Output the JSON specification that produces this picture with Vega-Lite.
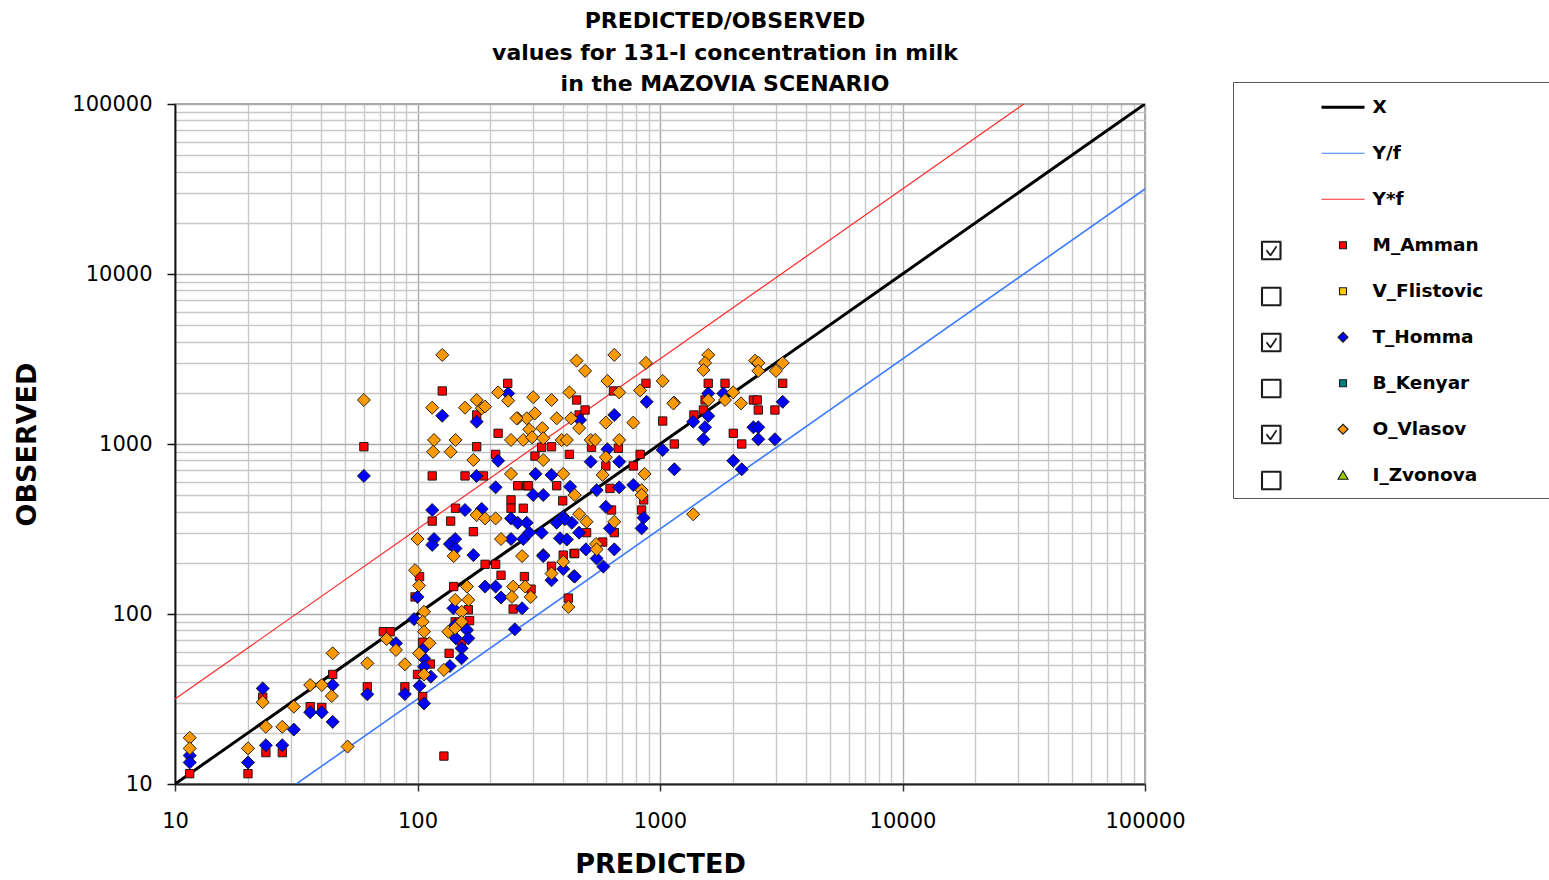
{
  "$schema": "https://vega.github.io/schema/vega-lite/v6.json",
  "width": 970,
  "height": 680,
  "autosize": {"type": "none"},
  "padding": {"left": 175, "top": 104, "right": 404, "bottom": 96},
  "background": "white",
  "title": {
    "text": ["PREDICTED/OBSERVED", "values for 131-I concentration in milk", "in the MAZOVIA SCENARIO"],
    "font": "DejaVu Sans", "fontSize": 22, "fontWeight": "bold", "color": "#000000",
    "lineHeight": 31.7, "anchor": "middle", "frame": "group", "dx": 65,
    "baseline": "alphabetic", "offset": -32
  },
  "datasets": {
    "lines": [
      {"series": "X", "predicted": 10, "observed": 10},
      {"series": "X", "predicted": 100000, "observed": 100000},
      {"series": "Y/f", "predicted": 31.62, "observed": 10},
      {"series": "Y/f", "predicted": 100000, "observed": 31623},
      {"series": "Y*f", "predicted": 10, "observed": 31.62},
      {"series": "Y*f", "predicted": 31623, "observed": 100000}
    ],
    "points": [
      {"series":"M_Amman","predicted":11.5,"observed":11.5},
      {"series":"M_Amman","predicted":20,"observed":11.5},
      {"series":"M_Amman","predicted":23,"observed":32.4},
      {"series":"M_Amman","predicted":23.7,"observed":15.3},
      {"series":"M_Amman","predicted":27.7,"observed":15.3},
      {"series":"M_Amman","predicted":36.1,"observed":28.5},
      {"series":"M_Amman","predicted":40.3,"observed":28.2},
      {"series":"M_Amman","predicted":44.7,"observed":44.1},
      {"series":"M_Amman","predicted":62.1,"observed":37.3},
      {"series":"M_Amman","predicted":72.3,"observed":78.7},
      {"series":"M_Amman","predicted":77.1,"observed":78.7},
      {"series":"M_Amman","predicted":102,"observed":166},
      {"series":"M_Amman","predicted":97.7,"observed":126},
      {"series":"M_Amman","predicted":105,"observed":68.2},
      {"series":"M_Amman","predicted":113,"observed":50.8},
      {"series":"M_Amman","predicted":100,"observed":44.1},
      {"series":"M_Amman","predicted":88.7,"observed":37.3},
      {"series":"M_Amman","predicted":105,"observed":32.7},
      {"series":"M_Amman","predicted":128.5,"observed":14.6},
      {"series":"M_Amman","predicted":162,"observed":106},
      {"series":"M_Amman","predicted":143,"observed":90},
      {"series":"M_Amman","predicted":164,"observed":91.4},
      {"series":"M_Amman","predicted":152,"observed":67.3},
      {"series":"M_Amman","predicted":135,"observed":58.7},
      {"series":"M_Amman","predicted":141,"observed":145},
      {"series":"M_Amman","predicted":190,"observed":196},
      {"series":"M_Amman","predicted":210,"observed":196},
      {"series":"M_Amman","predicted":221,"observed":169},
      {"series":"M_Amman","predicted":276,"observed":166},
      {"series":"M_Amman","predicted":170,"observed":305},
      {"series":"M_Amman","predicted":115,"observed":352},
      {"series":"M_Amman","predicted":137,"observed":352},
      {"series":"M_Amman","predicted":143.5,"observed":419},
      {"series":"M_Amman","predicted":243,"observed":469},
      {"series":"M_Amman","predicted":243,"observed":419},
      {"series":"M_Amman","predicted":273,"observed":419},
      {"series":"M_Amman","predicted":259,"observed":568},
      {"series":"M_Amman","predicted":282,"observed":568},
      {"series":"M_Amman","predicted":115,"observed":649},
      {"series":"M_Amman","predicted":157,"observed":649},
      {"series":"M_Amman","predicted":187,"observed":649},
      {"series":"M_Amman","predicted":210,"observed":869},
      {"series":"M_Amman","predicted":60.1,"observed":964},
      {"series":"M_Amman","predicted":175.4,"observed":964},
      {"series":"M_Amman","predicted":215,"observed":1156},
      {"series":"M_Amman","predicted":175.4,"observed":1482},
      {"series":"M_Amman","predicted":126.5,"observed":2051},
      {"series":"M_Amman","predicted":235.5,"observed":2275},
      {"series":"M_Amman","predicted":399,"observed":222},
      {"series":"M_Amman","predicted":442,"observed":227},
      {"series":"M_Amman","predicted":357,"observed":191},
      {"series":"M_Amman","predicted":294,"observed":140},
      {"series":"M_Amman","predicted":248,"observed":107},
      {"series":"M_Amman","predicted":419,"observed":124},
      {"series":"M_Amman","predicted":464,"observed":1482},
      {"series":"M_Amman","predicted":491,"observed":1585},
      {"series":"M_Amman","predicted":453,"observed":1815},
      {"series":"M_Amman","predicted":643,"observed":2051},
      {"series":"M_Amman","predicted":875,"observed":2275},
      {"series":"M_Amman","predicted":325,"observed":957},
      {"series":"M_Amman","predicted":357,"observed":964},
      {"series":"M_Amman","predicted":522,"observed":957},
      {"series":"M_Amman","predicted":673,"observed":944},
      {"series":"M_Amman","predicted":423,"observed":869},
      {"series":"M_Amman","predicted":828,"observed":869},
      {"series":"M_Amman","predicted":305,"observed":849},
      {"series":"M_Amman","predicted":598,"observed":743},
      {"series":"M_Amman","predicted":776,"observed":743},
      {"series":"M_Amman","predicted":286,"observed":568},
      {"series":"M_Amman","predicted":375,"observed":568},
      {"series":"M_Amman","predicted":622,"observed":548},
      {"series":"M_Amman","predicted":397,"observed":463},
      {"series":"M_Amman","predicted":856,"observed":469},
      {"series":"M_Amman","predicted":631,"observed":409},
      {"series":"M_Amman","predicted":840,"observed":409},
      {"series":"M_Amman","predicted":648,"observed":301},
      {"series":"M_Amman","predicted":498,"observed":301},
      {"series":"M_Amman","predicted":580,"observed":265},
      {"series":"M_Amman","predicted":445,"observed":227},
      {"series":"M_Amman","predicted":1581,"observed":2275},
      {"series":"M_Amman","predicted":1854,"observed":2275},
      {"series":"M_Amman","predicted":3206,"observed":2275},
      {"series":"M_Amman","predicted":2427,"observed":1815},
      {"series":"M_Amman","predicted":2518,"observed":1815},
      {"series":"M_Amman","predicted":1510,"observed":1585},
      {"series":"M_Amman","predicted":2543,"observed":1585},
      {"series":"M_Amman","predicted":2978,"observed":1585},
      {"series":"M_Amman","predicted":1380,"observed":1482},
      {"series":"M_Amman","predicted":2005,"observed":1156},
      {"series":"M_Amman","predicted":2173,"observed":1000},
      {"series":"M_Amman","predicted":1146,"observed":1000},
      {"series":"M_Amman","predicted":1026,"observed":1365},
      {"series":"M_Amman","predicted":1534,"observed":1815},
      {"series":"T_Homma","predicted":11.5,"observed":14.7},
      {"series":"T_Homma","predicted":11.5,"observed":13.4},
      {"series":"T_Homma","predicted":20,"observed":13.4},
      {"series":"T_Homma","predicted":23,"observed":36.5},
      {"series":"T_Homma","predicted":23.7,"observed":16.9},
      {"series":"T_Homma","predicted":27.7,"observed":16.9},
      {"series":"T_Homma","predicted":30.9,"observed":20.9},
      {"series":"T_Homma","predicted":36.1,"observed":26.4},
      {"series":"T_Homma","predicted":40.3,"observed":26.4},
      {"series":"T_Homma","predicted":44.7,"observed":38.2},
      {"series":"T_Homma","predicted":44.7,"observed":23.2},
      {"series":"T_Homma","predicted":62.1,"observed":33.7},
      {"series":"T_Homma","predicted":81.5,"observed":67.3},
      {"series":"T_Homma","predicted":126.5,"observed":1466},
      {"series":"T_Homma","predicted":236.6,"observed":1983},
      {"series":"T_Homma","predicted":175.4,"observed":1353},
      {"series":"T_Homma","predicted":215,"observed":797},
      {"series":"T_Homma","predicted":60.1,"observed":649},
      {"series":"T_Homma","predicted":175,"observed":649},
      {"series":"T_Homma","predicted":210,"observed":556},
      {"series":"T_Homma","predicted":115,"observed":409},
      {"series":"T_Homma","predicted":157,"observed":409},
      {"series":"T_Homma","predicted":184,"observed":415},
      {"series":"T_Homma","predicted":243,"observed":365},
      {"series":"T_Homma","predicted":259,"observed":344},
      {"series":"T_Homma","predicted":282,"observed":344},
      {"series":"T_Homma","predicted":117,"observed":276},
      {"series":"T_Homma","predicted":115,"observed":255},
      {"series":"T_Homma","predicted":136,"observed":258},
      {"series":"T_Homma","predicted":143,"observed":276},
      {"series":"T_Homma","predicted":143.5,"observed":243},
      {"series":"T_Homma","predicted":170,"observed":222},
      {"series":"T_Homma","predicted":243,"observed":276},
      {"series":"T_Homma","predicted":273,"observed":276},
      {"series":"T_Homma","predicted":190,"observed":145},
      {"series":"T_Homma","predicted":210,"observed":145},
      {"series":"T_Homma","predicted":100,"observed":126},
      {"series":"T_Homma","predicted":330,"observed":222},
      {"series":"T_Homma","predicted":357,"observed":158},
      {"series":"T_Homma","predicted":399,"observed":184},
      {"series":"T_Homma","predicted":442,"observed":167},
      {"series":"T_Homma","predicted":221,"observed":125},
      {"series":"T_Homma","predicted":270,"observed":108},
      {"series":"T_Homma","predicted":96.8,"observed":93.3},
      {"series":"T_Homma","predicted":106.4,"observed":62.8},
      {"series":"T_Homma","predicted":106.4,"observed":54.9},
      {"series":"T_Homma","predicted":106.4,"observed":49},
      {"series":"T_Homma","predicted":113.5,"observed":42.8},
      {"series":"T_Homma","predicted":88.7,"observed":33.8},
      {"series":"T_Homma","predicted":102,"observed":37.8},
      {"series":"T_Homma","predicted":106.4,"observed":29.8},
      {"series":"T_Homma","predicted":140.6,"observed":108},
      {"series":"T_Homma","predicted":160,"observed":80.5},
      {"series":"T_Homma","predicted":144,"observed":71.9},
      {"series":"T_Homma","predicted":162,"observed":71.9},
      {"series":"T_Homma","predicted":152,"observed":62.8},
      {"series":"T_Homma","predicted":152,"observed":54.9},
      {"series":"T_Homma","predicted":136,"observed":49.4},
      {"series":"T_Homma","predicted":252,"observed":81.3},
      {"series":"T_Homma","predicted":143,"observed":86},
      {"series":"T_Homma","predicted":881,"observed":1770},
      {"series":"T_Homma","predicted":648,"observed":1482},
      {"series":"T_Homma","predicted":468,"observed":1384},
      {"series":"T_Homma","predicted":607,"observed":931},
      {"series":"T_Homma","predicted":518,"observed":787},
      {"series":"T_Homma","predicted":679,"observed":787},
      {"series":"T_Homma","predicted":307,"observed":667},
      {"series":"T_Homma","predicted":357,"observed":658},
      {"series":"T_Homma","predicted":426,"observed":560},
      {"series":"T_Homma","predicted":548,"observed":535},
      {"series":"T_Homma","predicted":679,"observed":556},
      {"series":"T_Homma","predicted":776,"observed":574},
      {"series":"T_Homma","predicted":300,"observed":501},
      {"series":"T_Homma","predicted":330,"observed":501},
      {"series":"T_Homma","predicted":598,"observed":427},
      {"series":"T_Homma","predicted":399,"observed":373},
      {"series":"T_Homma","predicted":433,"observed":344},
      {"series":"T_Homma","predicted":856,"observed":368},
      {"series":"T_Homma","predicted":375,"observed":344},
      {"series":"T_Homma","predicted":405,"observed":361},
      {"series":"T_Homma","predicted":622,"observed":319},
      {"series":"T_Homma","predicted":464,"observed":301},
      {"series":"T_Homma","predicted":840,"observed":319},
      {"series":"T_Homma","predicted":325,"observed":301},
      {"series":"T_Homma","predicted":289,"observed":301},
      {"series":"T_Homma","predicted":387,"observed":279},
      {"series":"T_Homma","predicted":413,"observed":274},
      {"series":"T_Homma","predicted":495,"observed":240},
      {"series":"T_Homma","predicted":648,"observed":240},
      {"series":"T_Homma","predicted":330,"observed":219},
      {"series":"T_Homma","predicted":548,"observed":212},
      {"series":"T_Homma","predicted":584,"observed":190},
      {"series":"T_Homma","predicted":445,"observed":166},
      {"series":"T_Homma","predicted":1581,"observed":1983},
      {"series":"T_Homma","predicted":1825,"observed":1983},
      {"series":"T_Homma","predicted":3206,"observed":1770},
      {"series":"T_Homma","predicted":1581,"observed":1462},
      {"series":"T_Homma","predicted":1371,"observed":1353},
      {"series":"T_Homma","predicted":1534,"observed":1254},
      {"series":"T_Homma","predicted":2427,"observed":1254},
      {"series":"T_Homma","predicted":2543,"observed":1254},
      {"series":"T_Homma","predicted":1510,"observed":1066},
      {"series":"T_Homma","predicted":2543,"observed":1066},
      {"series":"T_Homma","predicted":2978,"observed":1066},
      {"series":"T_Homma","predicted":1026,"observed":922},
      {"series":"T_Homma","predicted":2005,"observed":797},
      {"series":"T_Homma","predicted":2173,"observed":710},
      {"series":"T_Homma","predicted":1146,"observed":710},
      {"series":"O_Vlasov","predicted":11.5,"observed":18.7},
      {"series":"O_Vlasov","predicted":11.5,"observed":16.2},
      {"series":"O_Vlasov","predicted":20,"observed":16.2},
      {"series":"O_Vlasov","predicted":23,"observed":30.3},
      {"series":"O_Vlasov","predicted":23.7,"observed":21.7},
      {"series":"O_Vlasov","predicted":27.7,"observed":21.7},
      {"series":"O_Vlasov","predicted":30.9,"observed":28.5},
      {"series":"O_Vlasov","predicted":36.1,"observed":38.2},
      {"series":"O_Vlasov","predicted":40.3,"observed":38.2},
      {"series":"O_Vlasov","predicted":44.7,"observed":58.7},
      {"series":"O_Vlasov","predicted":44.3,"observed":32.9},
      {"series":"O_Vlasov","predicted":51.5,"observed":16.6},
      {"series":"O_Vlasov","predicted":62.1,"observed":51.3},
      {"series":"O_Vlasov","predicted":74.6,"observed":71.3},
      {"series":"O_Vlasov","predicted":81.5,"observed":61.4},
      {"series":"O_Vlasov","predicted":126.5,"observed":3342},
      {"series":"O_Vlasov","predicted":215,"observed":2012},
      {"series":"O_Vlasov","predicted":236.6,"observed":1798},
      {"series":"O_Vlasov","predicted":60.1,"observed":1815},
      {"series":"O_Vlasov","predicted":115,"observed":1636},
      {"series":"O_Vlasov","predicted":157,"observed":1636},
      {"series":"O_Vlasov","predicted":175.4,"observed":1815},
      {"series":"O_Vlasov","predicted":184,"observed":1622},
      {"series":"O_Vlasov","predicted":190,"observed":1660},
      {"series":"O_Vlasov","predicted":259,"observed":1416},
      {"series":"O_Vlasov","predicted":282,"observed":1416},
      {"series":"O_Vlasov","predicted":117,"observed":1056},
      {"series":"O_Vlasov","predicted":143.5,"observed":1056},
      {"series":"O_Vlasov","predicted":243,"observed":1056},
      {"series":"O_Vlasov","predicted":273,"observed":1056},
      {"series":"O_Vlasov","predicted":116,"observed":900},
      {"series":"O_Vlasov","predicted":137,"observed":900},
      {"series":"O_Vlasov","predicted":170,"observed":805},
      {"series":"O_Vlasov","predicted":243,"observed":667},
      {"series":"O_Vlasov","predicted":175.4,"observed":382},
      {"series":"O_Vlasov","predicted":190,"observed":365},
      {"series":"O_Vlasov","predicted":210,"observed":365},
      {"series":"O_Vlasov","predicted":100,"observed":276},
      {"series":"O_Vlasov","predicted":141,"observed":219},
      {"series":"O_Vlasov","predicted":221,"observed":276},
      {"series":"O_Vlasov","predicted":270,"observed":219},
      {"series":"O_Vlasov","predicted":97.7,"observed":181},
      {"series":"O_Vlasov","predicted":101.5,"observed":147},
      {"series":"O_Vlasov","predicted":160,"observed":145},
      {"series":"O_Vlasov","predicted":248,"observed":145},
      {"series":"O_Vlasov","predicted":278,"observed":145},
      {"series":"O_Vlasov","predicted":357,"observed":173},
      {"series":"O_Vlasov","predicted":399,"observed":203},
      {"series":"O_Vlasov","predicted":293,"observed":126},
      {"series":"O_Vlasov","predicted":245,"observed":126},
      {"series":"O_Vlasov","predicted":419,"observed":110},
      {"series":"O_Vlasov","predicted":106.4,"observed":103},
      {"series":"O_Vlasov","predicted":105,"observed":90},
      {"series":"O_Vlasov","predicted":106.4,"observed":78.7},
      {"series":"O_Vlasov","predicted":112,"observed":67.3},
      {"series":"O_Vlasov","predicted":101.5,"observed":58.7},
      {"series":"O_Vlasov","predicted":106.4,"observed":44.1},
      {"series":"O_Vlasov","predicted":88.7,"observed":50.6},
      {"series":"O_Vlasov","predicted":143,"observed":121},
      {"series":"O_Vlasov","predicted":162,"observed":121},
      {"series":"O_Vlasov","predicted":152,"observed":103},
      {"series":"O_Vlasov","predicted":152,"observed":90},
      {"series":"O_Vlasov","predicted":134,"observed":78.7},
      {"series":"O_Vlasov","predicted":143,"observed":82.4},
      {"series":"O_Vlasov","predicted":128.5,"observed":46.9},
      {"series":"O_Vlasov","predicted":648,"observed":3342},
      {"series":"O_Vlasov","predicted":453,"observed":3092},
      {"series":"O_Vlasov","predicted":491,"observed":2692},
      {"series":"O_Vlasov","predicted":875,"observed":3000},
      {"series":"O_Vlasov","predicted":607,"observed":2349},
      {"series":"O_Vlasov","predicted":1026,"observed":2349},
      {"series":"O_Vlasov","predicted":423,"observed":2012},
      {"series":"O_Vlasov","predicted":679,"observed":2012},
      {"series":"O_Vlasov","predicted":300,"observed":1885},
      {"series":"O_Vlasov","predicted":357,"observed":1815},
      {"series":"O_Vlasov","predicted":828,"observed":2066},
      {"series":"O_Vlasov","predicted":1143,"observed":1752},
      {"series":"O_Vlasov","predicted":256,"observed":1416},
      {"series":"O_Vlasov","predicted":305,"observed":1514},
      {"series":"O_Vlasov","predicted":375,"observed":1416},
      {"series":"O_Vlasov","predicted":430,"observed":1416},
      {"series":"O_Vlasov","predicted":598,"observed":1336},
      {"series":"O_Vlasov","predicted":776,"observed":1336},
      {"series":"O_Vlasov","predicted":289,"observed":1218},
      {"series":"O_Vlasov","predicted":327,"observed":1240},
      {"series":"O_Vlasov","predicted":464,"observed":1240},
      {"series":"O_Vlasov","predicted":297,"observed":1094},
      {"series":"O_Vlasov","predicted":330,"observed":1080},
      {"series":"O_Vlasov","predicted":393,"observed":1056},
      {"series":"O_Vlasov","predicted":413,"observed":1056},
      {"series":"O_Vlasov","predicted":518,"observed":1056},
      {"series":"O_Vlasov","predicted":540,"observed":1056},
      {"series":"O_Vlasov","predicted":679,"observed":1056},
      {"series":"O_Vlasov","predicted":330,"observed":805},
      {"series":"O_Vlasov","predicted":598,"observed":836},
      {"series":"O_Vlasov","predicted":399,"observed":667},
      {"series":"O_Vlasov","predicted":864,"observed":667},
      {"series":"O_Vlasov","predicted":580,"observed":658},
      {"series":"O_Vlasov","predicted":840,"observed":535},
      {"series":"O_Vlasov","predicted":840,"observed":501},
      {"series":"O_Vlasov","predicted":445,"observed":501},
      {"series":"O_Vlasov","predicted":464,"observed":387},
      {"series":"O_Vlasov","predicted":498,"observed":349},
      {"series":"O_Vlasov","predicted":648,"observed":349},
      {"series":"O_Vlasov","predicted":545,"observed":258},
      {"series":"O_Vlasov","predicted":548,"observed":240},
      {"series":"O_Vlasov","predicted":1581,"observed":3342},
      {"series":"O_Vlasov","predicted":1534,"observed":3000},
      {"series":"O_Vlasov","predicted":1510,"observed":2723},
      {"series":"O_Vlasov","predicted":2466,"observed":3092},
      {"series":"O_Vlasov","predicted":2543,"observed":3000},
      {"series":"O_Vlasov","predicted":2543,"observed":2692},
      {"series":"O_Vlasov","predicted":3206,"observed":3000},
      {"series":"O_Vlasov","predicted":3006,"observed":2692},
      {"series":"O_Vlasov","predicted":2005,"observed":2012},
      {"series":"O_Vlasov","predicted":1581,"observed":1815},
      {"series":"O_Vlasov","predicted":1854,"observed":1815},
      {"series":"O_Vlasov","predicted":2158,"observed":1734},
      {"series":"O_Vlasov","predicted":1135,"observed":1734},
      {"series":"O_Vlasov","predicted":1371,"observed":386}
    ]
  },
  "layer": [
    {
      "data": {"name": "lines"},
      "transform": [{"filter": "datum.series === 'X'"}],
      "mark": {"type": "line", "clip": true, "color": "#000000", "strokeWidth": 3},
      "encoding": {
        "x": {
          "field": "predicted", "type": "quantitative",
          "scale": {"type": "log", "domain": [10, 100000], "nice": false},
          "axis": {"orient": "bottom", "values": [20,30,40,50,60,70,80,90,200,300,400,500,600,700,800,900,2000,3000,4000,5000,6000,7000,8000,9000,20000,30000,40000,50000,60000,70000,80000,90000],
                   "grid": true, "gridColor": "#c8c8c8", "gridWidth": 1.4, "labels": false, "ticks": false, "domain": false, "title": null}
        },
        "y": {
          "field": "observed", "type": "quantitative",
          "scale": {"type": "log", "domain": [10, 100000], "nice": false},
          "axis": {"orient": "left", "values": [20,30,40,50,60,70,80,90,200,300,400,500,600,700,800,900,2000,3000,4000,5000,6000,7000,8000,9000,20000,30000,40000,50000,60000,70000,80000,90000],
                   "grid": true, "gridColor": "#c8c8c8", "gridWidth": 1.4, "labels": false, "ticks": false, "domain": false, "title": null}
        }
      }
    },
    {
      "data": {"name": "lines"},
      "transform": [{"filter": "datum.series === 'Y/f'"}],
      "mark": {"type": "line", "clip": true, "color": "#3d7bff", "strokeWidth": 1.6},
      "encoding": {
        "x": {"field": "predicted", "type": "quantitative", "scale": {"type": "log", "domain": [10, 100000], "nice": false}, "axis": null},
        "y": {"field": "observed", "type": "quantitative", "scale": {"type": "log", "domain": [10, 100000], "nice": false}, "axis": null}
      }
    },
    {
      "data": {"name": "lines"},
      "transform": [{"filter": "datum.series === 'Y*f'"}],
      "mark": {"type": "line", "clip": true, "color": "#ff2a2a", "strokeWidth": 1.2},
      "encoding": {
        "x": {"field": "predicted", "type": "quantitative", "scale": {"type": "log", "domain": [10, 100000], "nice": false}, "axis": null},
        "y": {"field": "observed", "type": "quantitative", "scale": {"type": "log", "domain": [10, 100000], "nice": false}, "axis": null}
      }
    },
    {
      "data": {"name": "lines"},
      "transform": [{"filter": "datum.series === 'Y/f'"}],
      "mark": {"type": "point", "filled": true, "opacity": 0, "strokeWidth": 1.1},
      "encoding": {
        "x": {"field": "predicted", "type": "quantitative", "scale": {"type": "log", "domain": [10, 100000], "nice": false}, "axis": null},
        "y": {"field": "observed", "type": "quantitative", "scale": {"type": "log", "domain": [10, 100000], "nice": false}, "axis": null},
        "color": {
          "field": "series", "type": "nominal",
          "scale": {"domain": ["X","Y/f","Y*f","M_Amman","V_Flistovic","T_Homma","B_Kenyar","O_Vlasov","I_Zvonova"],
                    "range": ["#000000","#3d7bff","#ff2a2a","#ff0000","#ffcc00","#0000ff","#008080","#ff9900","#99cc00"]},
          "legend": {
            "orient": "none", "legendX": 1058, "legendY": -22,
            "title": " ", "titleFontSize": 2, "titlePadding": 14, "titleColor": "#ffffff",
            "padding": 0,
            "strokeColor": "#555555", "fillColor": "#ffffff",
            "labelFont": "DejaVu Sans", "labelFontWeight": "bold", "labelFontSize": 18.5, "labelColor": "#000000",
            "labelOffset": 20.25, "symbolOffset": 100.75, "rowPadding": 0, "labelLimit": 400,
            "symbolSize": 4, "symbolStrokeWidth": 1.1, "symbolOpacity": 1
          }
        },
        "shape": {
          "field": "series", "type": "nominal",
          "scale": {"domain": ["X","Y/f","Y*f","M_Amman","V_Flistovic","T_Homma","B_Kenyar","O_Vlasov","I_Zvonova"],
                    "range": [
                      "M0,-20.3M210,20.4M-21.5,0L21.5,0M-21.5,-1L21.5,-1M-21.5,1L21.5,1",
                      "M0,-20.3M210,20.4M-21.5,0L21.5,0",
                      "M0,-20.3M210,20.4M-21.5,0.01L21.5,0.01",
                      "M0,-20.3M210,20.4M-81.5,-4L-62,-4M-62,-4L-62,14.5M-62,14.5L-81.5,14.5M-81.5,14.5L-81.5,-4M-80.5,-3L-63,-3M-63,-3L-63,13.5M-63,13.5L-80.5,13.5M-80.5,13.5L-80.5,-3M-76.5,4.5L-72.5,9.5M-72.5,9.5L-66.5,0.5M-76.5,5.7L-72.5,10.7M-72.5,10.7L-66.5,1.7M-3.5,-3.5L3.5,-3.5L3.5,3.5L-3.5,3.5Z",
                      "M0,-20.3M210,20.4M-81.5,-4L-62,-4M-62,-4L-62,14.5M-62,14.5L-81.5,14.5M-81.5,14.5L-81.5,-4M-80.5,-3L-63,-3M-63,-3L-63,13.5M-63,13.5L-80.5,13.5M-80.5,13.5L-80.5,-3M-3.5,-3.5L3.5,-3.5L3.5,3.5L-3.5,3.5Z",
                      "M0,-20.3M210,20.4M-81.5,-4L-62,-4M-62,-4L-62,14.5M-62,14.5L-81.5,14.5M-81.5,14.5L-81.5,-4M-80.5,-3L-63,-3M-63,-3L-63,13.5M-63,13.5L-80.5,13.5M-80.5,13.5L-80.5,-3M-76.5,4.5L-72.5,9.5M-72.5,9.5L-66.5,0.5M-76.5,5.7L-72.5,10.7M-72.5,10.7L-66.5,1.7M0,-5L5,0L0,5L-5,0Z",
                      "M0,-20.3M210,20.4M-81.5,-4L-62,-4M-62,-4L-62,14.5M-62,14.5L-81.5,14.5M-81.5,14.5L-81.5,-4M-80.5,-3L-63,-3M-63,-3L-63,13.5M-63,13.5L-80.5,13.5M-80.5,13.5L-80.5,-3M-3.49,-3.5L3.5,-3.5L3.5,3.5L-3.49,3.5Z",
                      "M0,-20.3M210,20.4M-81.5,-4L-62,-4M-62,-4L-62,14.5M-62,14.5L-81.5,14.5M-81.5,14.5L-81.5,-4M-80.5,-3L-63,-3M-63,-3L-63,13.5M-63,13.5L-80.5,13.5M-80.5,13.5L-80.5,-3M-76.5,4.5L-72.5,9.5M-72.5,9.5L-66.5,0.5M-76.5,5.7L-72.5,10.7M-72.5,10.7L-66.5,1.7M0,-4.99L5,0L0,5L-5,0Z",
                      "M0,-20.3M210,20.4M-81.5,-4L-62,-4M-62,-4L-62,14.5M-62,14.5L-81.5,14.5M-81.5,14.5L-81.5,-4M-80.5,-3L-63,-3M-63,-3L-63,13.5M-63,13.5L-80.5,13.5M-80.5,13.5L-80.5,-3M0,-4.5L5,4L-5,4Z"
                    ]}
        },
        "stroke": {
          "field": "series", "type": "nominal",
          "scale": {"domain": ["X","Y/f","Y*f","M_Amman","V_Flistovic","T_Homma","B_Kenyar","O_Vlasov","I_Zvonova"],
                    "range": ["#000000","#3d7bff","#ff2a2a","#1a1a1a","#1a1a1a","#1a1a1a","#1a1a1a","#1a1a1a","#1a1a1a"]}
        }
      }
    },
    {
      "data": {"name": "points"},
      "transform": [{"filter": "datum.series === 'M_Amman'"}],
      "mark": {"type": "point", "shape": "square", "size": 70, "filled": true, "stroke": "#111111", "strokeWidth": 0.9, "opacity": 1},
      "encoding": {
        "x": {
          "field": "predicted", "type": "quantitative",
          "scale": {"type": "log", "domain": [10, 100000], "nice": false},
          "axis": {"orient": "bottom", "values": [10,100,1000,10000,100000], "format": "d",
                   "grid": true, "gridColor": "#aaaaaa", "gridWidth": 1.4,
                   "ticks": true, "tickSize": 7, "tickColor": "#333333", "tickWidth": 1.5,
                   "domain": true, "domainColor": "#222222", "domainWidth": 2,
                   "labelFont": "DejaVu Sans", "labelFontSize": 21, "labelColor": "#000000", "labelPadding": 19,
                   "labelFlush": false, "labelOverlap": false,
                   "title": "PREDICTED", "titleFont": "DejaVu Sans", "titleFontSize": 27, "titleFontWeight": "bold", "titleColor": "#000000", "titlePadding": 20}
        },
        "y": {
          "field": "observed", "type": "quantitative",
          "scale": {"type": "log", "domain": [10, 100000], "nice": false},
          "axis": {"orient": "left", "values": [10,100,1000,10000,100000], "format": "d",
                   "grid": true, "gridColor": "#aaaaaa", "gridWidth": 1.4,
                   "ticks": true, "tickSize": 8, "tickColor": "#111111", "tickWidth": 1.5,
                   "domain": true, "domainColor": "#111111", "domainWidth": 1.8,
                   "labelFont": "DejaVu Sans", "labelFontSize": 21, "labelColor": "#000000", "labelPadding": 15,
                   "labelFlush": false, "labelOverlap": false,
                   "title": "OBSERVED", "titleFont": "DejaVu Sans", "titleFontSize": 27, "titleFontWeight": "bold", "titleColor": "#000000", "titlePadding": 30}
        },
        "color": {
          "field": "series", "type": "nominal",
          "scale": {"domain": ["X","Y/f","Y*f","M_Amman","V_Flistovic","T_Homma","B_Kenyar","O_Vlasov","I_Zvonova"],
                    "range": ["#000000","#3d7bff","#ff2a2a","#ff0000","#ffcc00","#0000ff","#008080","#ff9900","#99cc00"]}
        }
      }
    },
    {
      "data": {"name": "points"},
      "transform": [{"filter": "datum.series !== 'M_Amman'"}],
      "mark": {"type": "point", "shape": "diamond", "size": 170, "filled": true, "stroke": "#111111", "strokeWidth": 0.9, "opacity": 1},
      "encoding": {
        "x": {"field": "predicted", "type": "quantitative", "scale": {"type": "log", "domain": [10, 100000], "nice": false}, "axis": null},
        "y": {"field": "observed", "type": "quantitative", "scale": {"type": "log", "domain": [10, 100000], "nice": false}, "axis": null},
        "color": {
          "field": "series", "type": "nominal",
          "scale": {"domain": ["X","Y/f","Y*f","M_Amman","V_Flistovic","T_Homma","B_Kenyar","O_Vlasov","I_Zvonova"],
                    "range": ["#000000","#3d7bff","#ff2a2a","#ff0000","#ffcc00","#0000ff","#008080","#ff9900","#99cc00"]}
        }
      }
    }
  ],
  "resolve": {"axis": {"x": "independent", "y": "independent"}},
  "config": {
    "font": "DejaVu Sans",
    "view": {"stroke": "#8a8a8a", "strokeWidth": 1.5}
  }
}
